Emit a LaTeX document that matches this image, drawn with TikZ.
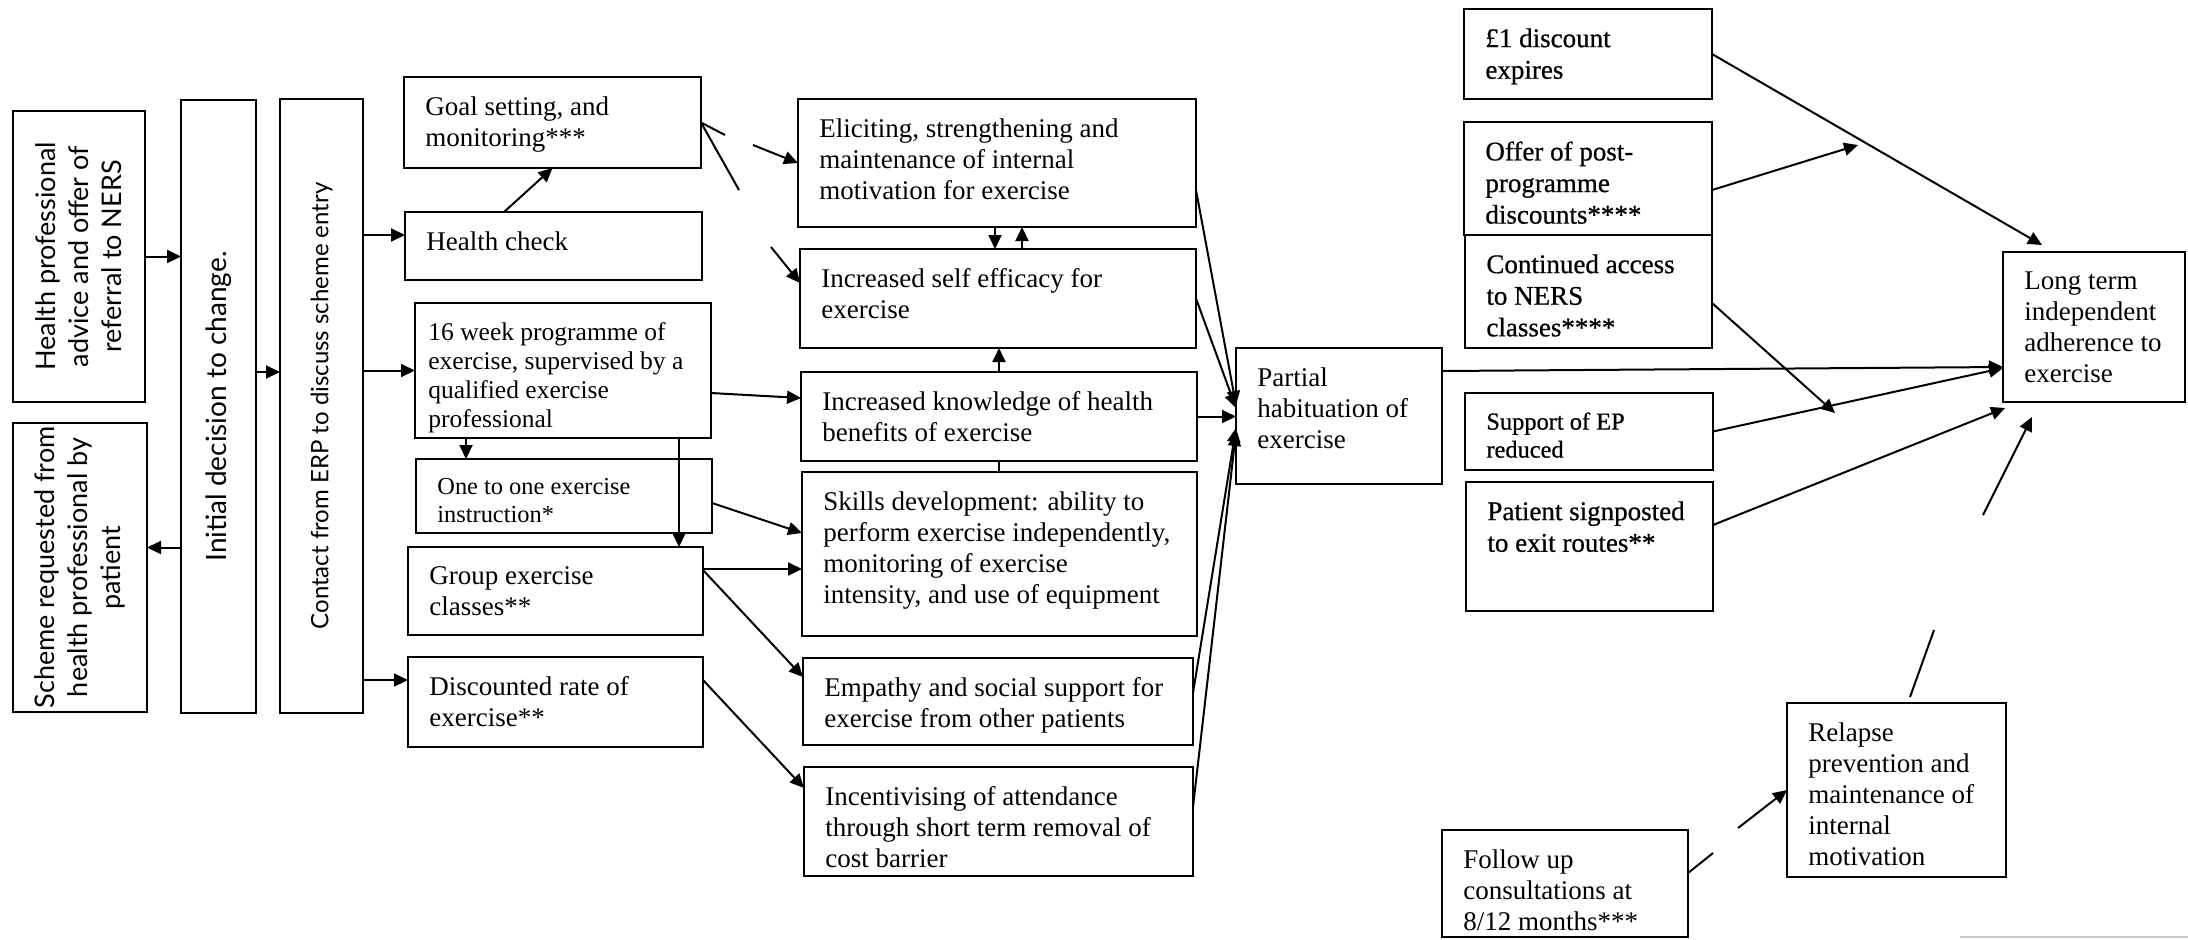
\documentclass[tikz,border=0pt]{standalone}
\usepackage{fontspec}
\setmainfont{Liberation Serif}
\newfontfamily\lfont{Lato}
\newfontfamily\heavyfont[FakeBold=0.7]{Liberation Serif}
\usetikzlibrary{arrows.meta,calc}
\tikzset{
  box/.style={draw, line width=1.35pt, anchor=north west, inner sep=0pt, outer sep=0pt},
  txt/.style={anchor=north west, inner sep=0pt, align=left, font=\fontsize{13.5}{15.5}\selectfont},
  heavy/.style={font=\heavyfont\fontsize{13.5}{15.8}\selectfont},
  rtxt/.style={rotate=90, inner sep=0pt, align=center, font=\lfont\fontsize{13.5}{16.5}\selectfont},
  con/.style={line width=1pt},
  arr/.style={con, -{Triangle[length=7pt,width=6.5pt]}},
}
\newcommand{\bx}[7][]{%
  \node[box, minimum width={(#5-#3)*0.5pt}, minimum height={(#6-#4)*0.5pt}] (#2) at (#3,#4) {};
  \node[txt, #1] (#2t) at ({#3+21},{#4+19}) {#7};
}
\newcommand{\rbx}[7][]{%
  \node[box, minimum width={(#5-#3)*0.5pt}, minimum height={(#6-#4)*0.5pt}] (#2) at (#3,#4) {};
  \node[rtxt, #1] (#2t) at (#2.center) {#7};
}
\begin{document}
\begin{tikzpicture}[x=0.5pt,y=-0.5pt]
\useasboundingbox (0,0) rectangle (2188,939);
% left column
\rbx{hp}{13}{111}{145}{402}{Health professional\\advice and offer of\\referral to NERS}
\rbx{scheme}{13}{423}{147}{712}{Scheme requested from\\health professional by\\patient}
\rbx[font=\lfont\fontsize{14}{16}\selectfont]{init}{181}{100}{256}{713}{Initial decision to change.}
\rbx[font=\lfont\fontsize{12}{15}\selectfont]{contact}{280}{99}{363}{713}{Contact from ERP to discuss scheme entry}
% programme column
\bx{goal}{404}{77}{701}{168}{Goal setting, and\\monitoring***}
\bx{hc}{405}{212}{702}{280}{Health check}
\bx[xshift=-4pt, font=\fontsize{12.75}{14.5}\selectfont]{wk}{415}{303}{711}{438}{16 week programme of\\exercise, supervised by a\\qualified exercise\\professional}
\bx[font=\fontsize{12.2}{14}\selectfont]{one}{416}{459}{712}{533}{One to one exercise\\instruction*}
\bx{grp}{408}{547}{703}{635}{Group exercise\\classes**}
\bx{disc}{408}{657}{703}{747}{Discounted rate of\\exercise**}
% mechanisms column
\bx{elic}{798}{99}{1196}{227}{Eliciting, strengthening and\\maintenance of internal\\motivation for exercise}
\bx{self}{800}{249}{1196}{348}{Increased self efficacy for\\exercise}
\bx{know}{801}{372}{1197}{461}{Increased knowledge of health\\benefits of exercise}
\bx{skills}{802}{472}{1197}{636}{Skills development: ability to\\perform exercise independently,\\monitoring of exercise\\intensity, and use of equipment}
\bx{emp}{803}{658}{1193}{745}{Empathy and social support for\\exercise from other patients}
\bx{inc}{804}{767}{1193}{876}{Incentivising of attendance\\through short term removal of\\cost barrier}
\bx{part}{1236}{348}{1442}{484}{Partial\\habituation of\\exercise}
% exit column
\bx[heavy]{pound}{1464}{9}{1712}{99}{£1 discount\\expires}
\bx[heavy]{offer}{1464}{122}{1712}{235}{Offer of post-\\programme\\discounts****}
\bx[heavy]{cont}{1465}{235}{1712}{348}{Continued access\\to NERS\\classes****}
\bx[font=\heavyfont\fontsize{12.2}{14}\selectfont]{supp}{1465}{393}{1713}{470}{Support of EP\\reduced}
\bx[heavy]{pat}{1466}{482}{1713}{611}{Patient signposted\\to exit routes**}
\bx{long}{2003}{252}{2185}{402}{Long term\\independent\\adherence to\\exercise}
\bx{rel}{1787}{703}{2006}{877}{Relapse\\prevention and\\maintenance of\\internal\\motivation}
\bx{fol}{1442}{830}{1688}{937}{Follow up\\consultations at\\8/12 months***}
% connectors
\draw[arr] (hp.east) -- (hp.east -| init.west);
\draw[arr] ([yshift=10pt]scheme.east -| init.west) -- ([yshift=10pt]scheme.east);
\draw[arr] ([yshift=17.25pt]init.east) -- ([yshift=17.25pt]init.east -| contact.west);
\draw[arr] ([yshift=5.5pt]hc.west -| contact.east) -- ([yshift=5.5pt]hc.west);
\draw[arr] (wk.west -| contact.east) -- (wk.west);
\draw[arr] ([yshift=11pt]disc.west -| contact.east) -- ([yshift=11pt]disc.west);
\draw[arr] ([xshift=-24.75pt]hc.north) -- (goal.south);
\coordinate (g1) at (725,135);
\coordinate (g2) at (739,190);
\draw[con] (goal.east) -- (g1);
\draw[con] (goal.east) -- (g2);
\coordinate (e1) at (753,145);
\coordinate (s1) at (771,247);
\draw[arr] (e1) -- (elic.west);
\draw[arr] (s1) -- ([yshift=7.75pt]self.west);
\draw[arr] ([yshift=-11.25pt]wk.east) -- ([yshift=9.25pt]know.west);
\draw[arr] ([xshift=-48.5pt]wk.south) -- ([xshift=-48.5pt]wk.south |- one.north);
\draw[arr] ([xshift=58pt]wk.south) -- ([xshift=58pt]wk.south |- grp.north);
\draw[arr] ([yshift=-3.5pt]one.east) -- ([yshift=10.5pt]skills.west);
\draw[arr] ([yshift=11pt]grp.east) -- ([yshift=11pt]grp.east -| skills.west);
\draw[arr] ([yshift=10.5pt]grp.east) -- ([yshift=12.25pt]emp.west);
\draw[arr] ([yshift=11pt]disc.east) -- ([yshift=16.75pt]inc.west);
\draw[arr] ([xshift=-1pt]elic.south) -- ([xshift=-1pt]elic.south |- self.north);
\draw[arr] ([xshift=12pt]self.north) -- ([xshift=12pt]self.north |- elic.south);
\draw[arr] (know.north) -- (know.north |- self.south);
\draw[con] (know.south) -- (know.south |- skills.north);
\draw[arr] ([yshift=-13.5pt]elic.east) -- ([yshift=5.5pt]part.west);
\draw[arr] (self.east) -- ([yshift=4pt]part.west);
\draw[arr] (know.east) -- (know.east -| part.west);
\draw[arr] ([yshift=4.25pt]emp.east) -- ([yshift=-6pt]part.west);
\draw[arr] ([yshift=7.25pt]inc.east) -- ([yshift=-8pt]part.west);
\draw[arr] ([yshift=22.5pt]part.east) -- ([yshift=-20pt]long.west);
\draw[arr] (pound.east) -- ([xshift=19.5pt,yshift=3.5pt]long.north west);
\coordinate (o1) at (1858,145);
\coordinate (c1) at (1835,413);
\draw[arr] ([yshift=-5.75pt]offer.east) -- (o1);
\draw[arr] ([yshift=-5.75pt]cont.east) -- (c1);
\draw[arr] (supp.east) -- ([yshift=-20.5pt]long.west);
\draw[arr] ([yshift=10.75pt]pat.east) -- ([xshift=1pt,yshift=-3pt]long.south west);
\coordinate (r1) at (1934,630);
\coordinate (r2) at (1983,515);
\draw[con] ([xshift=6.75pt,yshift=3pt]rel.north) -- (r1);
\draw[arr] (r2) -- ([xshift=14.5pt,yshift=-7.5pt]long.south west);
\coordinate (f1) at (1713,853);
\coordinate (f2) at (1738,828);
\draw[con] ([yshift=5.25pt]fol.east) -- (f1);
\draw[arr] (f2) -- (rel.west);
\coordinate (z1) at (1960,937);
\coordinate (z2) at (2188,937);
\draw[gray!40, line width=0.6pt] (z1) -- (z2);
\end{tikzpicture}
\end{document}
